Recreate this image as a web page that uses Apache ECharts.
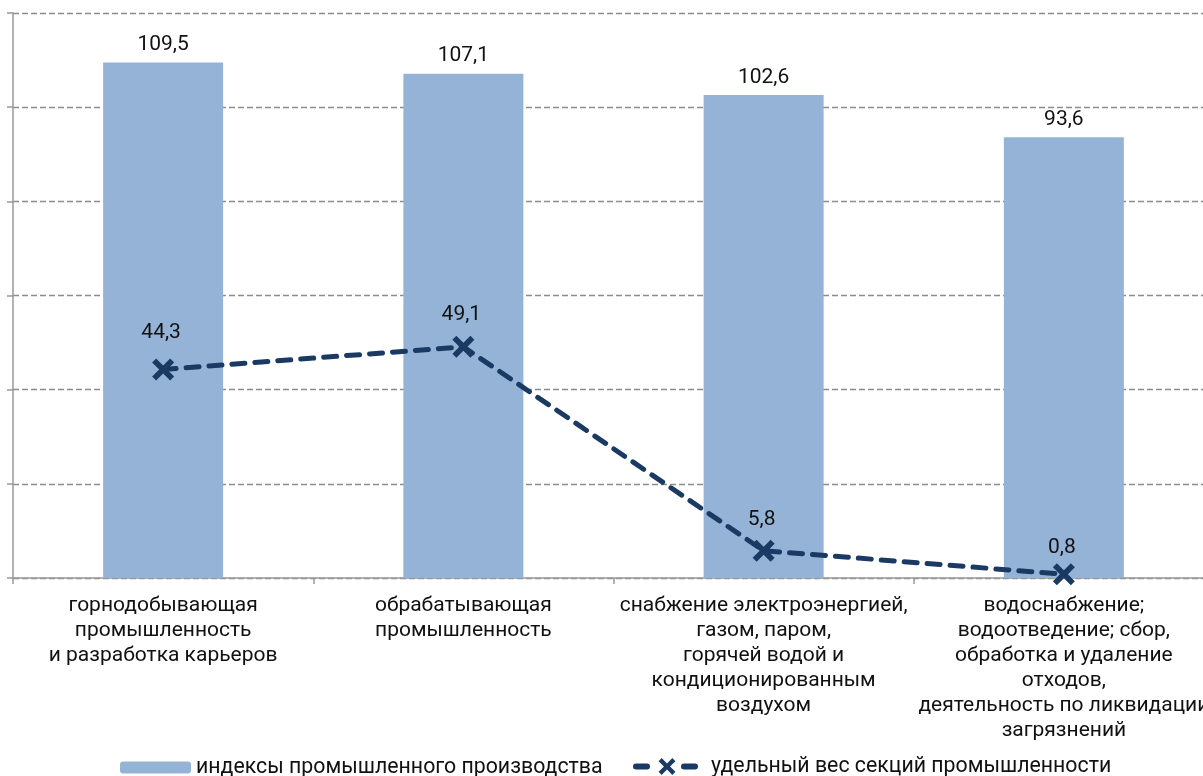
<!DOCTYPE html>
<html><head><meta charset="utf-8">
<script src="https://cdn.jsdelivr.net/npm/echarts@6/dist/echarts.min.js"></script>
<style>html,body{margin:0;padding:0;background:#fff;overflow:hidden;width:1203px;height:776px}#c{width:1216px;height:776px}</style>
</head><body><div id="c"></div>
<script>
const categories = [
  "горнодобывающая\nпромышленность\nи разработка карьеров",
  "обрабатывающая\nпромышленность",
  "снабжение электроэнергией,\nгазом, паром,\nгорячей водой и\nкондиционированным\nвоздухом",
  "водоснабжение;\nводоотведение; сбор,\nобработка и удаление\nотходов,\nдеятельность по ликвидации\nзагрязнений"
];
const indexValues = [109.5, 107.1, 102.6, 93.6];
const shareValues = [44.3, 49.1, 5.8, 0.8];
const seriesNames = ["индексы промышленного производства", "удельный вес секций промышленности"];
// label lift above the marker (styling only, px)
const shareLabelLift = [37, 32, 31, 26];

const FONT = 'Roboto';
const fmt = p => String(p.value).replace('.', ',');
const xPath = 'path://M0,4 L4,0 L11,7 L18,0 L22,4 L15,11 L22,18 L18,22 L11,15 L4,22 L0,18 L7,11 Z';
const LINE_COLOR = '#1B3A63';

const chart = echarts.init(document.getElementById('c'), null, {renderer: 'canvas'});
chart.setOption({
  animation: false,
  textStyle: {fontFamily: FONT},
  grid: {left: 13, right: 2, top: 13, bottom: 198, containLabel: false},
  legend: [
    {data: [seriesNames[0]], left: 120, top: 757, padding: 0, itemWidth: 71, itemHeight: 12,
     textStyle: {fontFamily: FONT, fontSize: 21.3, color: '#111'}},
    {data: [seriesNames[1]], left: 625, top: 756, padding: 0, itemWidth: 78, itemHeight: 21,
     lineStyle: {width: 6, type: [11, 37, 11, 100], dashOffset: 151, cap: 'round', color: LINE_COLOR},
     textStyle: {fontFamily: FONT, fontSize: 21.3, color: '#111'}}
  ],
  xAxis: {
    type: 'category', data: categories,
    axisLine: {lineStyle: {color: '#999', width: 1.5}},
    axisTick: {show: true, length: 6, alignWithLabel: false, lineStyle: {color: '#999', width: 1.5}},
    axisLabel: {interval: 0, margin: 15, fontFamily: FONT, fontSize: 21, lineHeight: 25, color: '#111', align: 'center'}
  },
  yAxis: {
    type: 'value', min: 0, max: 120, interval: 20,
    axisLine: {show: true, lineStyle: {color: '#999', width: 1.5}},
    axisTick: {show: true, length: 6, lineStyle: {color: '#999', width: 1.5}},
    axisLabel: {show: false},
    splitLine: {show: true, lineStyle: {color: '#8c8c8c', type: [6, 3], width: 1.3}}
  },
  series: [
    {
      name: seriesNames[0], type: 'bar', data: indexValues, barWidth: 120,
      itemStyle: {color: '#95B3D7'},
      label: {show: true, position: 'top', distance: 7, formatter: fmt, fontFamily: FONT, fontSize: 21, color: '#111'}
    },
    {
      name: seriesNames[1], type: 'line',
      data: shareValues.map((v, i) => ({value: v, label: {offset: [-2, -shareLabelLift[i]]}})),
      symbol: xPath, symbolSize: 22, showSymbol: true,
      lineStyle: {color: LINE_COLOR, width: 5, type: [13, 10], cap: 'round'},
      itemStyle: {color: LINE_COLOR},
      label: {show: true, position: 'inside', formatter: fmt, fontFamily: FONT, fontSize: 21, color: '#111'},
      z: 5
    }
  ]
});
</script></body></html>
